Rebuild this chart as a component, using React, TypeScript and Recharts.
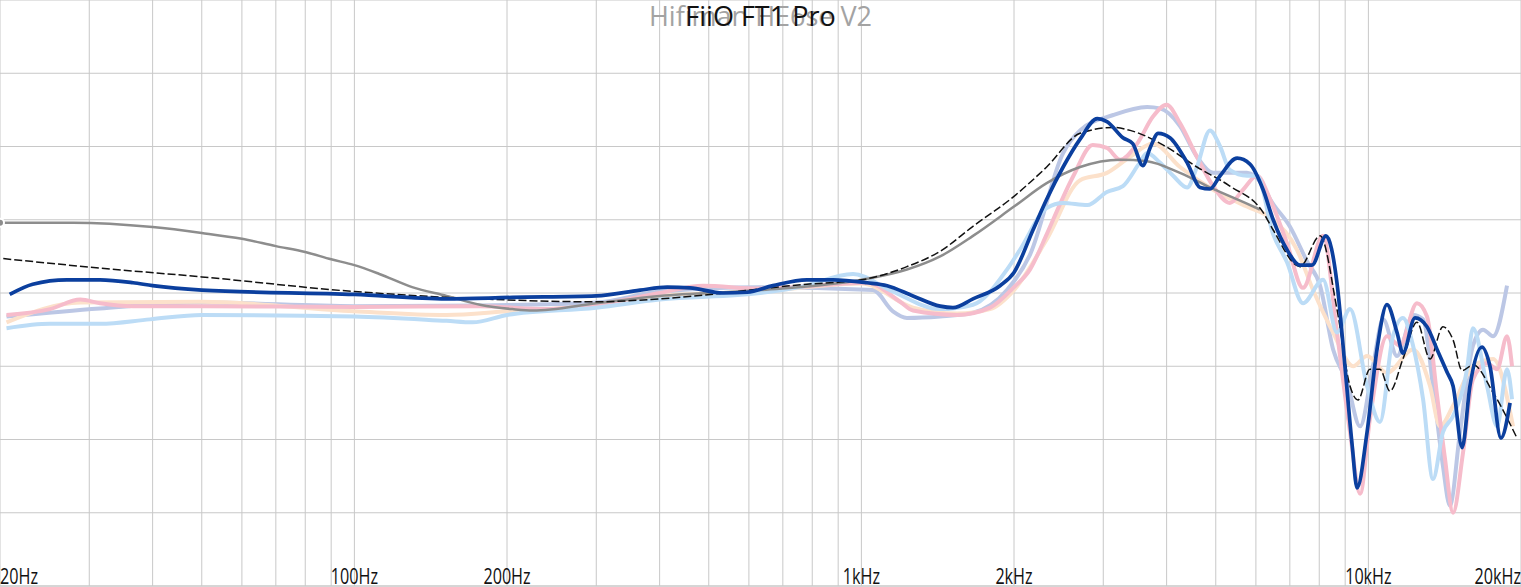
import React from 'react';
import { LineChart, Line, XAxis, YAxis, CartesianGrid } from 'recharts';

// grid + labels
const gridFreqs = [
  20, 30, 40, 50, 60, 70, 80, 90, 100, 200, 300, 400, 500, 600, 700, 800, 900,
  1000, 2000, 3000, 4000, 5000, 6000, 7000, 8000, 9000, 10000, 20000,
];
const freqLabels: Record<number, string> = {
  20: '20Hz', 100: '100Hz', 200: '200Hz', 1000: '1kHz', 2000: '2kHz', 10000: '10kHz', 20000: '20kHz',
};
const dbTicks = [45, 50, 55, 60, 65, 70, 75, 80, 85];

// [Hz, dB]
const he6se: number[][] = [
  [20, 69.8], [27.9, 69.8], [40, 69.5], [50, 69.1], [60, 68.7], [70, 68.2], [80, 67.8], [90, 67.3],
  [100, 66.9], [112, 66.3], [130, 65.4], [152, 64.8], [177, 64.2], [205, 63.9], [225, 63.8],
  [300, 64.3], [400, 64.8], [631, 65.2], [1000, 65.9], [1230, 66.6], [1430, 67.5], [1660, 68.9],
  [2000, 70.9], [2320, 72.5], [2700, 73.6], [3240, 74.1], [3660, 74.0], [4250, 73.2], [4940, 72.1],
  [5760, 71.1], [6110, 70.7],
];

const target: number[][] = [
  [20.3, 67.35], [31.5, 66.7], [50, 66.1], [100, 65.1], [177, 64.6], [300, 64.4], [400, 64.6],
  [781, 65.6], [1000, 65.9], [1230, 66.8], [1430, 67.85], [1660, 69.55], [2000, 71.6], [2320, 73.6],
  [2700, 75.9], [3140, 76.3], [3390, 76.1], [3940, 75.1], [4590, 73.6], [5330, 72.3], [6200, 70.5],
  [6490, 69.3], [7330, 66.8], [8030, 68.9], [8670, 63.9], [9200, 58.65], [9540, 57.7], [10070, 59.8],
  [10540, 59.8], [11030, 58.3], [11700, 60.5], [12470, 63.0], [13230, 60.5], [14030, 62.7],
  [14690, 61.8], [15310, 59.7], [16080, 60.1], [17620, 58.2], [19640, 55.1],
];

const ft1Pro: number[][] = [
  [20.9, 64.9], [23.2, 65.6], [27.1, 65.9], [31.5, 65.9], [36.6, 65.7], [40, 65.5], [50, 65.2],
  [100, 64.9], [152, 64.6], [205, 64.7], [300, 64.8], [366, 65.2], [414, 65.4], [459, 65.35],
  [533, 65.0], [595, 65.05], [669, 65.5], [781, 65.9], [879, 65.9], [1026, 65.7], [1124, 65.5],
  [1264, 64.8], [1430, 64.1], [1516, 64.0], [1660, 64.6], [1877, 65.5], [2000, 66.4], [2180, 69.3],
  [2320, 71.4], [2500, 73.6], [2700, 75.5], [2920, 76.9], [3050, 76.7], [3280, 75.6], [3430, 75.2],
  [3590, 73.7], [3710, 74.9], [3850, 75.9], [4060, 75.6], [4390, 73.9], [4656, 72.2], [4870, 72.1],
  [5100, 73.0], [5510, 74.2], [5840, 73.8], [6200, 72.05], [6490, 70.0], [6910, 67.95], [7330, 66.9],
  [7740, 66.9], [8250, 68.9], [8670, 65.7], [8990, 60.0], [9290, 54.6], [9500, 51.7], [9940, 55.5],
  [10400, 61.15], [10880, 64.2], [11390, 62.3], [11700, 60.9], [12360, 63.3], [13050, 62.7],
  [13660, 61.15], [14290, 59.6], [14690, 58.65], [15310, 54.45], [15860, 58.65], [16750, 61.3],
  [17370, 60.0], [18260, 55.1], [19030, 57.5],
];

const pinkSet: number[][] = [
  [20.6, 63.5], [25.1, 63.9], [28.8, 64.55], [31.5, 64.3], [36.6, 64.1], [50, 64.1], [100, 64.05],
  [177, 64.1], [240, 63.9], [300, 64.2], [400, 65.0], [487, 65.5], [631, 65.3], [1026, 65.7],
  [1192, 64.4], [1264, 63.8], [1544, 63.5], [1794, 64.0], [2000, 65.4], [2150, 66.6], [2320, 69.0],
  [2460, 71.0], [2620, 73.0], [2860, 75.1], [3050, 74.9], [3240, 74.1], [3500, 75.2], [3760, 77.05],
  [4000, 77.85], [4250, 76.6], [4590, 74.3], [4940, 72.3], [5330, 71.15], [5660, 72.05], [6030, 73.0],
  [6400, 71.4], [6910, 68.4], [7430, 65.35], [8140, 68.9], [8670, 62.3], [9200, 55.5], [9630, 51.3],
  [10070, 56.4], [10880, 62.05], [11540, 61.4], [12470, 64.3], [13050, 63.4], [13660, 58.0],
  [14160, 53.7], [14690, 50.0], [15370, 54.1], [16080, 59.1], [17140, 60.2], [17940, 59.8],
  [18770, 62.05], [19200, 60.0],
];

const lavenderSet: number[][] = [
  [20.6, 63.4], [31.5, 63.95], [50, 64.35], [100, 64.1], [177, 64.15], [300, 64.35], [400, 65.1],
  [631, 65.4], [1054, 65.2], [1154, 63.75], [1230, 63.3], [1430, 63.4], [1660, 63.65], [1937, 65.2],
  [2150, 67.6], [2500, 74.55], [2700, 76.1], [3140, 77.15], [3660, 77.7], [3880, 77.6], [4250, 76.4],
  [4590, 74.3], [4940, 73.2], [5760, 73.2], [6200, 72.3], [6400, 71.4], [7010, 69.5], [7570, 67.15],
  [8030, 65.5], [8520, 61.15], [9080, 58.9], [9630, 55.9], [10210, 60.0], [10690, 63.2], [11390, 60.7],
  [12250, 63.5], [12820, 63.2], [13410, 58.65], [14030, 53.2], [14480, 50.5], [15160, 55.5],
  [16080, 61.4], [16830, 62.5], [17620, 62.05], [18770, 65.5],
];

const skySet: number[][] = [
  [20.6, 62.6], [25.1, 62.9], [31.5, 62.9], [39.5, 63.2], [50, 63.5], [100, 63.4], [152, 63.1],
  [171, 63.0], [200, 63.5], [300, 64.0], [400, 64.55], [631, 65.0], [757, 65.4], [963, 66.3],
  [1138, 65.2], [1430, 63.9], [1660, 64.2], [1937, 66.6], [2055, 67.95], [2320, 70.8], [2500, 71.15],
  [2790, 71.0], [3050, 71.9], [3280, 72.3], [3540, 73.9], [3660, 74.55], [3880, 73.9], [4120, 73.0],
  [4390, 72.2], [4590, 73.6], [4870, 76.1], [5100, 75.0], [5330, 73.4], [5760, 73.0], [6030, 73.0],
  [6490, 69.0], [6910, 67.1], [7430, 64.3], [8140, 65.9], [8670, 62.3], [9200, 63.9], [9940, 58.65],
  [10540, 56.2], [11180, 62.05], [11700, 63.3], [12250, 61.4], [12820, 57.75], [13410, 52.3],
  [14030, 55.5], [14690, 56.6], [15650, 59.8], [16080, 62.6], [17140, 58.65], [17940, 55.9],
  [18770, 59.8], [19200, 57.75],
];

const peachSet: number[][] = [
  [20.6, 63.0], [28.8, 64.35], [50, 64.4], [100, 63.75], [152, 63.5], [200, 63.75], [300, 64.15],
  [400, 64.8], [631, 65.1], [1000, 65.65], [1264, 64.0], [1544, 63.6], [1794, 63.9], [2000, 65.2],
  [2320, 68.65], [2700, 72.7], [3050, 73.2], [3390, 74.3], [3760, 75.2], [4250, 73.6], [4940, 72.05],
  [5760, 70.9], [6490, 70.0], [7230, 67.95], [7780, 65.2], [8520, 62.3], [9330, 60.0], [9940, 60.7],
  [10880, 59.55], [12250, 61.15], [13230, 58.65], [13840, 55.9], [14690, 57.3], [16080, 60.0],
  [17620, 60.5], [19290, 55.9],
];

const toPoints = (rows: number[][]) => rows.map(([f, db]) => ({ f, db }));

const FreqTick = (props: any) => {
  const { x, y, payload } = props;
  const label = freqLabels[payload.value];
  if (!label) return null;
  const anchor = payload.value === 20 ? 'start' : payload.value === 20000 ? 'end' : 'middle';
  return (
    <text
      transform={`translate(${x},${y - 2}) scale(0.77,1)`}
      textAnchor={anchor}
      fill="#111"
      fontSize={21}
      fontFamily="'Open Sans', sans-serif"
    >
      {label}
    </text>
  );
};

const W = 1521;
const H = 587;

export default function App() {
  return (
    <div style={{ position: 'absolute', left: 0, top: 0, width: W, height: H, background: '#fff' }}>
      <LineChart width={W} height={H} margin={{ top: 0, right: 0, bottom: 0, left: 0 }}>
        <CartesianGrid stroke="#c8c8c8" strokeWidth={1} />
        <XAxis
          dataKey="f"
          type="number"
          scale="log"
          domain={[20, 20000]}
          ticks={gridFreqs}
          interval={0}
          allowDataOverflow
          height={1}
          tickSize={0}
          tickMargin={0}
          tickLine={false}
          axisLine={{ stroke: '#c8c8c8' }}
          tick={<FreqTick />}
        />
        <YAxis type="number" domain={[45, 85]} ticks={dbTicks} hide allowDataOverflow />
        <Line data={toPoints(lavenderSet)} dataKey="db" type="monotone" stroke="#bcc7e5" strokeWidth={4} dot={false} isAnimationActive={false} />
        <Line data={toPoints(peachSet)} dataKey="db" type="monotone" stroke="#fce1cb" strokeWidth={4} dot={false} isAnimationActive={false} />
        <Line data={toPoints(pinkSet)} dataKey="db" type="monotone" stroke="#f6bccb" strokeWidth={4} dot={false} isAnimationActive={false} />
        <Line data={toPoints(skySet)} dataKey="db" type="monotone" stroke="#bcdcf6" strokeWidth={4} dot={false} isAnimationActive={false} />
        <Line data={toPoints(he6se)} dataKey="db" type="monotone" stroke="#8d8d8d" strokeWidth={2.5} strokeLinecap="butt" dot={false} isAnimationActive={false} />
        <Line data={toPoints(target)} dataKey="db" type="monotone" stroke="#111" strokeWidth={1.5} strokeDasharray="8 3" dot={false} isAnimationActive={false} />
        <Line data={toPoints(ft1Pro)} dataKey="db" type="monotone" stroke="#0b3f9e" strokeWidth={3.7} dot={false} isAnimationActive={false} />
      </LineChart>
      <div
        style={{
          position: 'absolute', left: 0, top: 2, width: W, textAlign: 'center',
          fontFamily: "'Open Sans', sans-serif", fontSize: 27, lineHeight: '27px', color: '#a3a3a3',
          pointerEvents: 'none',
        }}
      >
        Hifiman HE6se V2
      </div>
      <div
        style={{
          position: 'absolute', left: 0, top: 2, width: W, textAlign: 'center',
          fontFamily: "'Open Sans', sans-serif", fontSize: 27, lineHeight: '27px', color: '#111',
          pointerEvents: 'none',
        }}
      >
        FiiO FT1 Pro
      </div>
    </div>
  );
}
